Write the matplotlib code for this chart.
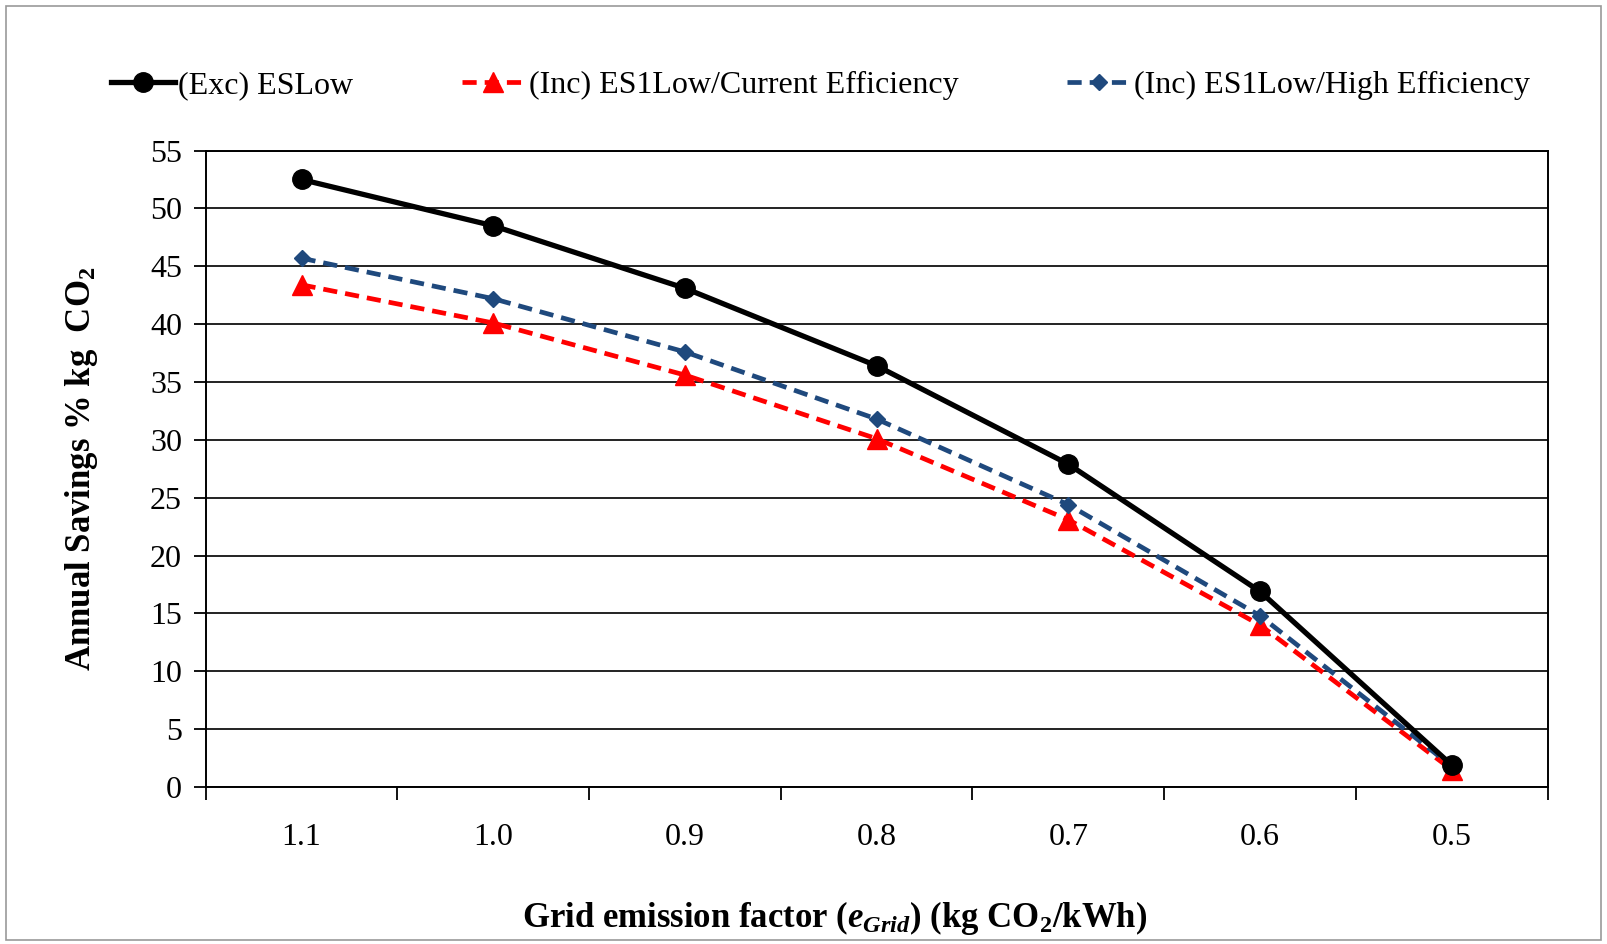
import matplotlib
matplotlib.use("Agg")
import matplotlib.pyplot as plt
from matplotlib.patches import Rectangle
from matplotlib.ticker import FixedLocator, NullFormatter

plt.rcParams['font.family'] = ['Liberation Serif', 'DejaVu Serif']
plt.rcParams['mathtext.fontset'] = 'custom'
plt.rcParams['mathtext.rm'] = 'Liberation Serif:bold'
plt.rcParams['mathtext.it'] = 'Liberation Serif:italic:bold'
plt.rcParams['mathtext.bf'] = 'Liberation Serif:bold'

categories = ["1.1", "1.0", "0.9", "0.8", "0.7", "0.6", "0.5"]
exc_eslow = [52.5, 48.5, 43.1, 36.4, 27.9, 16.9, 1.9]
inc_current = [43.4, 40.1, 35.6, 30.1, 23.1, 14.0, 1.5]
inc_high = [45.7, 42.2, 37.6, 31.8, 24.4, 14.8, 1.8]
yticks = list(range(0, 56, 5))

fig = plt.figure(figsize=(16.07, 9.44), dpi=100)
ax = fig.add_axes([0.128, 0.1663, 0.835, 0.6742])

x = list(range(len(categories)))
ax.plot(x, exc_eslow, color='black', lw=3.8, marker='o', ms=14,
        label='(Exc) ESLow', zorder=5)
ax.plot(x, inc_current, color='#ff0000', lw=3.4, ls=(0, (3, 1.7)), marker='^', ms=15,
        label='(Inc) ES1Low/Current Efficiency', zorder=4)
ax.plot(x, inc_high, color='#1f497d', lw=3.4, ls=(0, (3, 1.7)), marker='D', ms=8.5,
        label='(Inc) ES1Low/High Efficiency', zorder=4)

ax.set_xlim(-0.5, len(categories) - 0.5)
ax.set_ylim(0, 55)
ax.set_yticks(yticks)
ax.set_xticks(x)
ax.set_xticklabels(categories)
ax.xaxis.set_minor_locator(FixedLocator([i - 0.5 for i in range(len(categories) + 1)]))
ax.xaxis.set_minor_formatter(NullFormatter())
ax.tick_params(axis='x', which='major', length=0, pad=26, labelsize=23)
ax.tick_params(axis='x', which='minor', length=9, width=1.3, direction='out', color='black')
ax.tick_params(axis='y', length=9, width=1.3, direction='out', pad=8, labelsize=23)
ax.yaxis.grid(True, color='#222222', lw=1.4)
ax.set_axisbelow(True)
for s in ax.spines.values():
    s.set_color('black')
    s.set_linewidth(1.4)

ax.set_ylabel(r'Annual Savings % kg  CO$_2$', fontsize=25, fontweight='bold', labelpad=36)
ax.set_xlabel(r'Grid emission factor ($e_{Grid}$) (kg CO$_2$/kWh)', fontsize=25,
              fontweight='bold', labelpad=34, x=0.469)

ax.legend(loc='center', bbox_to_anchor=(0.458, 1.102), ncol=3, frameon=False,
          fontsize=23, handlelength=2.0, handletextpad=0.1, columnspacing=3.4)

fig.add_artist(Rectangle((0.004, 0.004), 0.992, 0.99, transform=fig.transFigure,
                         fill=False, edgecolor='#999999', lw=1.2))

fig.savefig('out.png', dpi=100)
